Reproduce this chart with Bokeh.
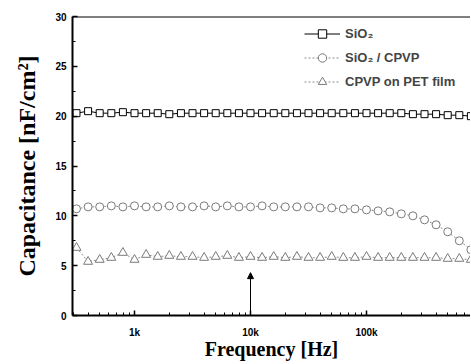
from bokeh.plotting import figure
from bokeh.models import (Range1d, FixedTicker, Span, Arrow, NormalHead, Legend, LegendItem,
                          ColumnDataSource)
from bokeh.embed import file_html
from bokeh.resources import INLINE

freq = [316, 398, 501, 631, 794, 1000, 1259, 1585, 1995, 2512, 3162, 3981, 5012, 6310, 7943,
        10000, 12589, 15849, 19953, 25119, 31623, 39811, 50119, 63096, 79433,
        100000, 125893, 158489, 199526, 251189, 316228, 398107, 501187, 630957, 794328]
sio2 = [20.3, 20.5, 20.3, 20.3, 20.4, 20.3, 20.3, 20.3, 20.2, 20.3, 20.3, 20.3, 20.3, 20.3, 20.3,
        20.3, 20.3, 20.3, 20.3, 20.3, 20.3, 20.3, 20.3, 20.3, 20.3,
        20.3, 20.3, 20.3, 20.3, 20.2, 20.2, 20.2, 20.1, 20.1, 20.0]
sio2_cpvp = [10.7, 10.9, 10.9, 11.0, 10.9, 11.0, 10.9, 10.9, 11.0, 10.9, 10.9, 11.0, 10.9, 11.0, 10.9,
             10.9, 11.0, 10.9, 10.9, 10.9, 10.9, 10.8, 10.8, 10.7, 10.7,
             10.6, 10.5, 10.4, 10.2, 10.0, 9.6, 9.1, 8.4, 7.5, 6.6]
cpvp_pet = [6.8, 5.4, 5.6, 5.8, 6.3, 5.6, 6.1, 5.9, 6.0, 5.9, 5.9, 5.8, 5.9, 6.0, 5.8,
            5.9, 5.8, 5.9, 5.8, 5.9, 5.8, 5.8, 5.9, 5.8, 5.8,
            5.9, 5.8, 5.8, 5.8, 5.8, 5.8, 5.8, 5.7, 5.7, 5.6]
series_names = ["SiO\u2082", "SiO\u2082 / CPVP", "CPVP on PET film"]
x_ticks = [1000, 10000, 100000]
x_tick_labels = {1000: "1k", 10000: "10k", 100000: "100k"}
x_minor = [m * d for d in [100, 1000, 10000, 100000] for m in range(2, 10)]
y_ticks = [0, 5, 10, 15, 20, 25, 30]
y_minor = [2.5, 7.5, 12.5, 17.5, 22.5, 27.5]
arrow_freq = 10000
arrow_top = 4.3

p = figure(width=470, height=362, x_axis_type="log", output_backend="svg",
           toolbar_location=None, x_range=Range1d(292, 788000), y_range=Range1d(0, 30),
           min_border_left=72, min_border_right=0, min_border_top=16, min_border_bottom=47)
p.outline_line_color = None
p.grid.visible = False
p.background_fill_color = "white"
p.border_fill_color = "white"

src = ColumnDataSource(dict(f=freq, a=sio2, b=sio2_cpvp, c=cpvp_pet))

l1 = p.line("f", "a", source=src, line_color="black", line_width=1)
m1 = p.scatter("f", "a", source=src, marker="square", size=7, line_color="black",
               fill_color="white", line_width=1)
l2 = p.line("f", "b", source=src, line_color="#8a8a8a", line_width=1, line_dash="2 2")
m2 = p.scatter("f", "b", source=src, marker="circle", size=8, line_color="#7a7a7a",
               fill_color="white", line_width=1)
l3 = p.line("f", "c", source=src, line_color="#8a8a8a", line_width=1, line_dash="2 2")
m3 = p.scatter("f", "c", source=src, marker="triangle", size=9, line_color="#7a7a7a",
               fill_color="white", line_width=1)

legend = Legend(items=[LegendItem(label=series_names[0], renderers=[l1, m1]),
                       LegendItem(label=series_names[1], renderers=[l2, m2]),
                       LegendItem(label=series_names[2], renderers=[l3, m3])],
                location=(232, 223), border_line_color=None, background_fill_alpha=0,
                padding=0, margin=0, spacing=3, glyph_width=36, glyph_height=21,
                label_height=21, label_standoff=5,
                label_text_font="Liberation Sans", label_text_font_style="bold",
                label_text_font_size="13px")
p.add_layout(legend)

p.add_layout(Span(location=30, dimension="width", line_color="black", line_width=2))
p.add_layout(Arrow(end=NormalHead(size=6, fill_color="black", line_color="black"),
                   x_start=arrow_freq, y_start=0, x_end=arrow_freq, y_end=arrow_top,
                   line_color="black", line_width=1))

xa = p.xaxis[0]
xa.ticker = FixedTicker(ticks=x_ticks, minor_ticks=x_minor)
xa.major_label_overrides = x_tick_labels
xa.axis_label = "Frequency [Hz]"
ya = p.yaxis[0]
ya.ticker = FixedTicker(ticks=y_ticks, minor_ticks=y_minor)
ya.axis_label = "Capacitance [nF/cm\u00b2]"

for ax in (xa, ya):
    ax.axis_line_width = 2
    ax.axis_line_color = "black"
    ax.major_tick_in = 5
    ax.major_tick_out = 0
    ax.minor_tick_in = 3
    ax.minor_tick_out = 0
    ax.major_tick_line_width = 1.5
    ax.major_label_text_font = "Liberation Sans"
    ax.major_label_text_font_style = "bold"
    ax.major_label_text_font_size = "10px"
    ax.axis_label_text_font = "Liberation Serif"
    ax.axis_label_text_font_style = "bold"
    ax.axis_label_text_color = "black"
    ax.major_label_text_color = "black"

xa.axis_label_text_font_size = "20px"
xa.major_label_standoff = 11
xa.axis_label_standoff = -3
ya.axis_label_text_font_size = "24px"
ya.major_label_standoff = 6
ya.axis_label_standoff = 12

open("out.html", "w").write(file_html(p, INLINE))
